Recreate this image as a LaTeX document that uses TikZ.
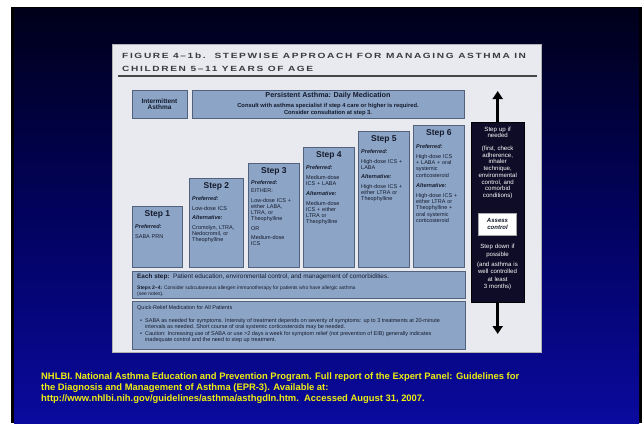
\documentclass[tikz,border=0pt]{standalone}
\usepackage{fontspec}
\setmainfont{Liberation Sans}
\newfontfamily\titlefont{Liberation Sans}[FakeStretch=1.35, LetterSpace=22]
\usetikzlibrary{arrows.meta}
\definecolor{slidetop}{HTML}{00001A}
\definecolor{slidemid}{HTML}{02025E}
\definecolor{slidebot}{HTML}{0A0A9E}
\definecolor{panelbg}{HTML}{E9EAF0}
\definecolor{boxfill}{HTML}{8CA5C6}
\definecolor{boxline}{HTML}{52627C}
\definecolor{txtdark}{HTML}{151A2C}
\definecolor{ctlfill}{HTML}{0E0C26}
\definecolor{citeyellow}{HTML}{F0EE10}
\definecolor{titlegray}{HTML}{3A3A40}
\newcommand\prefx{\textbf{\textit{Preferred:}}}
\newcommand\altx{\textbf{\textit{Alternative:}}}
\begin{document}
\begin{tikzpicture}[x=1pt,y=-1pt,
  stepbox/.style={draw=boxline, fill=boxfill, line width=0.8pt, inner sep=0pt, anchor=north west},
  steptitle/.style={font=\fontsize{8.5}{9}\selectfont\bfseries, text=txtdark, inner sep=0pt},
  stepbody/.style={font=\fontsize{5.5}{6.1}\selectfont, text=txtdark, inner sep=0pt, anchor=north west, align=left, text width=47pt},
  hdrtext/.style={text=txtdark, inner sep=0pt, anchor=base},
  smalltext/.style={font=\fontsize{5.5}{6}\selectfont, text=txtdark, inner sep=0pt, anchor=base west},
  ctltext/.style={text=white, inner sep=0pt, anchor=north, align=center, text width=52pt},
  citetext/.style={font=\fontsize{9.4}{11}\selectfont\bfseries, text=citeyellow, inner sep=0pt, anchor=base west},
  bigarrow/.style={line width=3pt, draw=black, -{Triangle[width=10pt,length=8pt]}},
  titletext/.style={font=\titlefont\bfseries\fontsize{7.5}{9}\selectfont, text=titlegray, inner sep=0pt, anchor=base west}
]
\useasboundingbox (0,0) rectangle (642,423);
\fill[white] (0,0) rectangle (642,423);
\fill[black] (11,7) rectangle (642,423);
\shade[top color=slidetop, bottom color=slidebot, middle color=slidemid] (14,8) rectangle (639,423);

% figure panel
\node[anchor=north west, minimum width=429pt, minimum height=308pt, fill=panelbg, draw=gray!60, line width=0.6pt, inner sep=0pt] (panel) at (112,44) {};
\node[titletext] (title1) at (122,58) {FIGURE 4–1b.\ \ STEPWISE APPROACH FOR MANAGING ASTHMA IN};
\node[titletext] (title2) at (122,71.5) {CHILDREN 5–11 YEARS OF AGE};
\draw[line width=1.8pt, draw=gray!55!black] (118,75.8) -- (537,75.8);

% header row
\node[stepbox, minimum width=55pt, minimum height=28pt] (inter) at (132,90) {};
\node[hdrtext, font=\fontsize{6.5}{7}\selectfont\bfseries] (interA) at (159.5,103.2) {Intermittent};
\node[hdrtext, font=\fontsize{6.5}{7}\selectfont\bfseries] (interB) at (159.5,109.8) {Asthma};
\node[stepbox, minimum width=272pt, minimum height=28pt] (pers) at (192,90) {};
\node[hdrtext, font=\fontsize{7.2}{8}\selectfont\bfseries] (persA) at (328,97.5) {Persistent Asthma: Daily Medication};
\node[hdrtext, font=\fontsize{5.8}{7}\selectfont\bfseries] (persB) at (328,107.5) {Consult with asthma specialist if step 4 care or higher is required.};
\node[hdrtext, font=\fontsize{5.8}{7}\selectfont\bfseries] (persC) at (328,114.2) {Consider consultation at step 3.};

% steps
\node[stepbox, minimum width=50pt, minimum height=61pt] (s1) at (132,206) {};
\node[stepbox, minimum width=54pt, minimum height=89pt] (s2) at (189,178) {};
\node[stepbox, minimum width=51pt, minimum height=104pt] (s3) at (248,163) {};
\node[stepbox, minimum width=51pt, minimum height=120pt] (s4) at (303,147) {};
\node[stepbox, minimum width=51pt, minimum height=136pt] (s5) at (358,131) {};
\node[stepbox, minimum width=51pt, minimum height=142pt] (s6) at (413,125) {};

\foreach \s/\n in {s1/1,s2/2,s3/3,s4/4,s5/5,s6/6}{
  \node[steptitle] (\s t) at ([yshift=-8.7pt]\s.north) {Step \n};
}
\node[stepbody] (s1b) at ([xshift=3pt,yshift=-18.5pt]s1.north west) {\prefx\\[3.5pt]SABA PRN};
\node[stepbody] (s2b) at ([xshift=3pt,yshift=-18.5pt]s2.north west) {\prefx\\[3.5pt]Low-dose ICS\\[3.5pt]\altx\\[3.5pt]Cromolyn, LTRA,\\Nedocromil, or\\Theophylline};
\node[stepbody] (s3b) at ([xshift=3pt,yshift=-17.5pt]s3.north west) {\prefx\\[2pt]EITHER:\\[3.5pt]Low-dose ICS +\\either LABA,\\LTRA, or\\Theophylline\\[3.5pt]OR\\[3.5pt]Medium-dose\\ICS};
\node[stepbody] (s4b) at ([xshift=3pt,yshift=-18.5pt]s4.north west) {\prefx\\[3.5pt]Medium-dose\\ICS + LABA\\[4.5pt]\altx\\[3.5pt]Medium-dose\\ICS + either\\LTRA or\\Theophylline};
\node[stepbody] (s5b) at ([xshift=3pt,yshift=-18.5pt]s5.north west) {\prefx\\[3.5pt]High-dose ICS +\\LABA\\[3.5pt]\altx\\[3.5pt]High-dose ICS +\\either LTRA or\\Theophylline};
\node[stepbody] (s6b) at ([xshift=3pt,yshift=-19.5pt]s6.north west) {\prefx\\[4pt]High-dose ICS\\+ LABA + oral\\systemic\\corticosteroid\\[4.5pt]\altx\\[4pt]High-dose ICS +\\either LTRA or\\Theophylline +\\oral systemic\\corticosteroid};

% each step box
\node[stepbox, minimum width=333pt, minimum height=27pt] (each) at (132,271) {};
\node[smalltext, font=\fontsize{6.4}{6}\selectfont] (eachA) at (137,278) {\textbf{Each step:}\ \ Patient education, environmental control, and management of comorbidities.};
\node[smalltext, font=\fontsize{5}{6}\selectfont] (eachB) at (137,289.8) {\textbf{Steps 2–4:} Consider subcutaneous allergen immunotherapy for patients who have allergic asthma};
\node[smalltext, font=\fontsize{5}{6}\selectfont] (eachC) at (137,295.6) {(see notes).};

% quick relief box
\node[stepbox, minimum width=333pt, minimum height=48pt] (quick) at (132,301) {};
\node[smalltext] (qA) at (137,309) {Quick-Relief Medication for All Patients};
\node[smalltext] (qdot1) at (140,322) {•};
\node[smalltext] (q1) at (145,322) {SABA as needed for symptoms. Intensity of treatment depends on severity of symptoms: up to 3 treatments at 20-minute};
\node[smalltext] (q2) at (145,328.5) {intervals as needed. Short course of oral systemic corticosteroids may be needed.};
\node[smalltext] (qdot2) at (140,335) {•};
\node[smalltext] (q3) at (145,335) {Caution: Increasing use of SABA or use >2 days a week for symptom relief (not prevention of EIB) generally indicates};
\node[smalltext] (q4) at (145,341.5) {inadequate control and the need to step up treatment.};

% control column
\node[anchor=north west, fill=ctlfill, draw=black, minimum width=53pt, minimum height=180pt, inner sep=0pt] (ctl) at (471,122) {};
\node[ctltext, font=\fontsize{6.1}{6.7}\selectfont] (ctlup) at ([yshift=-4.5pt]ctl.north) {Step up if\\needed\\[6pt](first, check\\adherence,\\inhaler\\technique,\\environmental\\control, and\\comorbid\\conditions)};
\node[fill=white, draw=gray!70, minimum width=38pt, minimum height=22pt, inner sep=0pt, align=center, text=txtdark, font=\fontsize{6}{7.5}\selectfont\bfseries\itshape] (assess) at (497.5,224) {Assess\\control};
\node[ctltext, font=\fontsize{6.1}{7.6}\selectfont] (ctldown) at ([yshift=-9pt]assess.south) {Step down if\\possible\\[2pt](and asthma is\\well controlled\\at least\\3 months)};
\coordinate (uptip) at (0,91);
\coordinate (dntip) at (0,334);
\draw[bigarrow] (ctl.north) -- (ctl.north |- uptip);
\draw[bigarrow] (ctl.south) -- (ctl.south |- dntip);

% citation
\node[citetext] (cite1) at (41,379) {NHLBI. National Asthma Education and Prevention Program. Full report of the Expert Panel: Guidelines for};
\node[citetext] (cite2) at (41,390) {the Diagnosis and Management of Asthma (EPR-3). Available at:};
\node[citetext] (cite3) at (41,401) {http://www.nhlbi.nih.gov/guidelines/asthma/asthgdln.htm.\ \ Accessed August 31, 2007.};
\end{tikzpicture}
\end{document}
